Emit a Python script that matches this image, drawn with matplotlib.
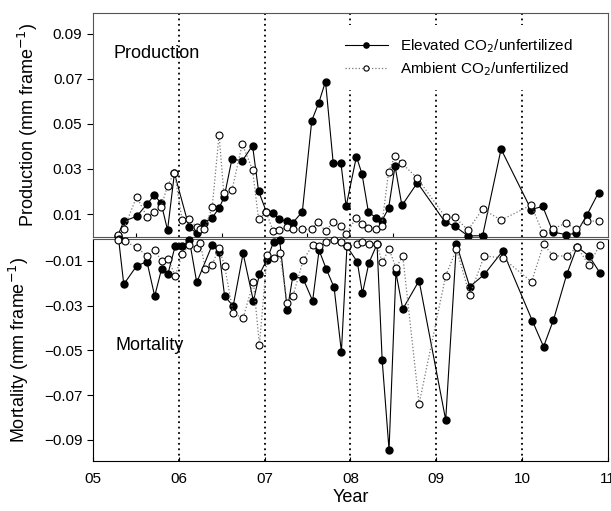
import matplotlib
matplotlib.use("Agg")
import matplotlib.pyplot as plt

plt.rcParams['font.family'] = ['Liberation Sans', 'DejaVu Sans']

# elevated CO2 / unfertilized
prod_elev_t = [5.29, 5.36, 5.51, 5.63, 5.715, 5.795, 5.87, 5.95, 6.12, 6.21, 6.30, 6.39, 6.47, 6.53,
               6.62, 6.74, 6.86, 6.93, 7.02, 7.10, 7.17, 7.26, 7.33, 7.44, 7.55, 7.63, 7.71, 7.80,
               7.89, 7.95, 8.07, 8.135, 8.21, 8.30, 8.365, 8.445, 8.52, 8.60, 8.78, 9.10, 9.22,
               9.37, 9.54, 9.755, 10.105, 10.24, 10.36, 10.51, 10.63, 10.755, 10.89]
prod_elev = [0.0004, 0.0068, 0.0090, 0.0143, 0.0184, 0.0148, 0.0029, 0.0281, 0.0043, 0.0014, 0.0061,
             0.0084, 0.0126, 0.0176, 0.0344, 0.0336, 0.0404, 0.0202, 0.0111, 0.0106, 0.0076, 0.0068,
             0.0062, 0.0110, 0.0515, 0.0592, 0.0688, 0.0325, 0.0325, 0.0134, 0.0355, 0.0278, 0.0108,
             0.0084, 0.0069, 0.0126, 0.0313, 0.0138, 0.0239, 0.0066, 0.0045, 0.0003, 0.0004, 0.0388,
             0.0120, 0.0134, 0.0020, 0.0009, 0.0014, 0.0096, 0.0195]

mort_elev_t = [5.30, 5.36, 5.51, 5.63, 5.72, 5.80, 5.875, 5.96, 6.04, 6.125, 6.21, 6.39, 6.47, 6.535,
               6.635, 6.75, 6.87, 6.94, 7.025, 7.105, 7.175, 7.265, 7.33, 7.45, 7.56, 7.635, 7.72,
               7.81, 7.895, 7.96, 8.08, 8.14, 8.215, 8.31, 8.37, 8.45, 8.53, 8.61, 8.80, 9.11, 9.235,
               9.39, 9.56, 9.775, 10.12, 10.25, 10.365, 10.52, 10.64, 10.78, 10.905]
mort_elev = [-0.0003, -0.0204, -0.0122, -0.0103, -0.0257, -0.0136, -0.0157, -0.0031, -0.0032, -0.0008,
             -0.0196, -0.0028, -0.0058, -0.0258, -0.0301, -0.0066, -0.0279, -0.0160, -0.0096, -0.0015,
             -0.0004, -0.0319, -0.0166, -0.0180, -0.0278, -0.0052, -0.0137, -0.0218, -0.0506, -0.0035,
             -0.0104, -0.0245, -0.0109, -0.0025, -0.0543, -0.0945, -0.0151, -0.0315, -0.0188, -0.0811,
             -0.0024, -0.0215, -0.0160, -0.0055, -0.0368, -0.0483, -0.0364, -0.0160, -0.0036, -0.0078,
             -0.0152]

# ambient CO2 / unfertilized
prod_amb_t = [5.29, 5.36, 5.51, 5.63, 5.715, 5.795, 5.87, 5.95, 6.04, 6.12, 6.21, 6.25, 6.30, 6.39,
              6.47, 6.525, 6.62, 6.74, 6.86, 6.93, 7.02, 7.10, 7.17, 7.26, 7.33, 7.44, 7.55, 7.62,
              7.71, 7.80, 7.89, 7.95, 8.07, 8.135, 8.21, 8.30, 8.365, 8.445, 8.52, 8.60, 8.78, 9.11,
              9.22, 9.37, 9.54, 9.755, 10.105, 10.24, 10.36, 10.51, 10.63, 10.755, 10.89]
prod_amb = [0.0005, 0.0033, 0.0177, 0.0088, 0.0111, 0.0132, 0.0226, 0.0284, 0.0073, 0.0078, 0.0042,
            0.0032, 0.0033, 0.0130, 0.0451, 0.0195, 0.0205, 0.0411, 0.0296, 0.0078, 0.0108, 0.0024,
            0.0029, 0.0042, 0.0033, 0.0032, 0.0032, 0.0066, 0.0024, 0.0064, 0.0047, 0.0012, 0.0084,
            0.0054, 0.0036, 0.0034, 0.0047, 0.0288, 0.0359, 0.0325, 0.0259, 0.0085, 0.0085, 0.0029,
            0.0122, 0.0073, 0.0140, 0.0017, 0.0034, 0.0060, 0.0033, 0.0068, 0.0069]

mort_amb_t = [5.29, 5.37, 5.51, 5.63, 5.72, 5.80, 5.875, 5.96, 6.04, 6.125, 6.21, 6.25, 6.31, 6.39,
              6.47, 6.535, 6.635, 6.75, 6.87, 6.94, 7.03, 7.105, 7.175, 7.265, 7.33, 7.45, 7.56,
              7.635, 7.72, 7.81, 7.895, 7.96, 8.08, 8.14, 8.215, 8.31, 8.37, 8.45, 8.53, 8.61, 8.80,
              9.11, 9.235, 9.39, 9.56, 9.775, 10.11, 10.25, 10.365, 10.52, 10.64, 10.78, 10.905]
mort_amb = [-0.0005, -0.0012, -0.0039, -0.0076, -0.0052, -0.0100, -0.0090, -0.0167, -0.0070, -0.0029,
            -0.0043, -0.0018, -0.0135, -0.0116, -0.0042, -0.0124, -0.0334, -0.0356, -0.0193, -0.0476,
            -0.0073, -0.0088, -0.0062, -0.0289, -0.0257, -0.0096, -0.0029, -0.0033, -0.0014, -0.0004,
            -0.0015, -0.0035, -0.0026, -0.0015, -0.0026, -0.0026, -0.0106, -0.0046, -0.0130, -0.0078,
            -0.0739, -0.0166, -0.0048, -0.0252, -0.0077, -0.0087, -0.0193, -0.0026, -0.0077, -0.0078,
            -0.0038, -0.0118, -0.0027]

year_ticks = [5, 6, 7, 8, 9, 10, 11]
year_labels = ['05', '06', '07', '08', '09', '10', '11']
prod_ticks = [0.01, 0.03, 0.05, 0.07, 0.09]
mort_ticks = [-0.01, -0.03, -0.05, -0.07, -0.09]

fig = plt.figure(figsize=(6.11, 5.11), dpi=100)
ax1 = fig.add_axes([0.152, 0.537, 0.843, 0.438])
ax2 = fig.add_axes([0.152, 0.098, 0.843, 0.435])

elev_style = dict(color='black', lw=0.8, marker='o', ms=5, mfc='black', mec='black', clip_on=False, zorder=3)
amb_style = dict(color='#777777', lw=0.9, ls=':', marker='o', ms=5, mfc='white', mec='black', mew=0.8,
                 clip_on=False, zorder=4)

ax1.plot(prod_elev_t, prod_elev, label='Elevated CO$_2$/unfertilized', **elev_style)
ax1.plot(prod_amb_t, prod_amb, label='Ambient CO$_2$/unfertilized', **amb_style)
ax2.plot(mort_elev_t, mort_elev, **elev_style)
ax2.plot(mort_amb_t, mort_amb, **amb_style)

for ax in (ax1, ax2):
    for yr in year_ticks[1:-1]:
        ax.axvline(yr, color='black', ls=(0, (1, 2)), lw=1.3, zorder=1)
    ax.set_xlim(5, 11)
    ax.tick_params(axis='y', direction='out', length=4, labelsize=11, color='black')

ax1.set_ylim(0, 0.0993)
ax2.set_ylim(-0.0994, 0)
ax1.set_yticks(prod_ticks)
ax1.set_yticklabels(['0.01', '0.03', '0.05', '0.07', '0.09'])
ax2.set_yticks(mort_ticks)
ax2.set_yticklabels(['\u22120.01', '\u22120.03', '\u22120.05', '\u22120.07', '\u22120.09'])

ax1.set_xticks([5.5, 6.5, 7.5, 8.5, 9.5, 10.5])
ax1.tick_params(axis='x', direction='in', length=3, labelbottom=False)
ax2.set_xticks(year_ticks)
ax2.set_xticklabels(year_labels)
ax2.tick_params(axis='x', direction='in', length=3, labelsize=11, pad=8)

for sp in ax1.spines.values():
    sp.set_color('#555555')
ax2.spines['top'].set_color('#555555')

ax1.set_ylabel('Production (mm frame$^{-1}$)', fontsize=13, labelpad=9)
ax2.set_ylabel('Mortality (mm frame$^{-1}$)', fontsize=13, labelpad=9)
fig.align_ylabels([ax1, ax2])
ax2.set_xlabel('Year', fontsize=13, labelpad=2)

ax1.text(0.04, 0.82, 'Production', transform=ax1.transAxes, fontsize=13, va='center', ha='left')
ax2.text(0.043, 0.52, 'Mortality', transform=ax2.transAxes, fontsize=13, va='center', ha='left')

leg = ax1.legend(loc='upper right', bbox_to_anchor=(0.97, 0.98), fontsize=11, frameon=True,
                 facecolor='white', edgecolor='none', framealpha=1, fancybox=False,
                 markerscale=0.75, handlelength=2.8, borderpad=0.8, labelspacing=0.35)
leg.set_zorder(5)

fig.savefig('out.png', dpi=100)
